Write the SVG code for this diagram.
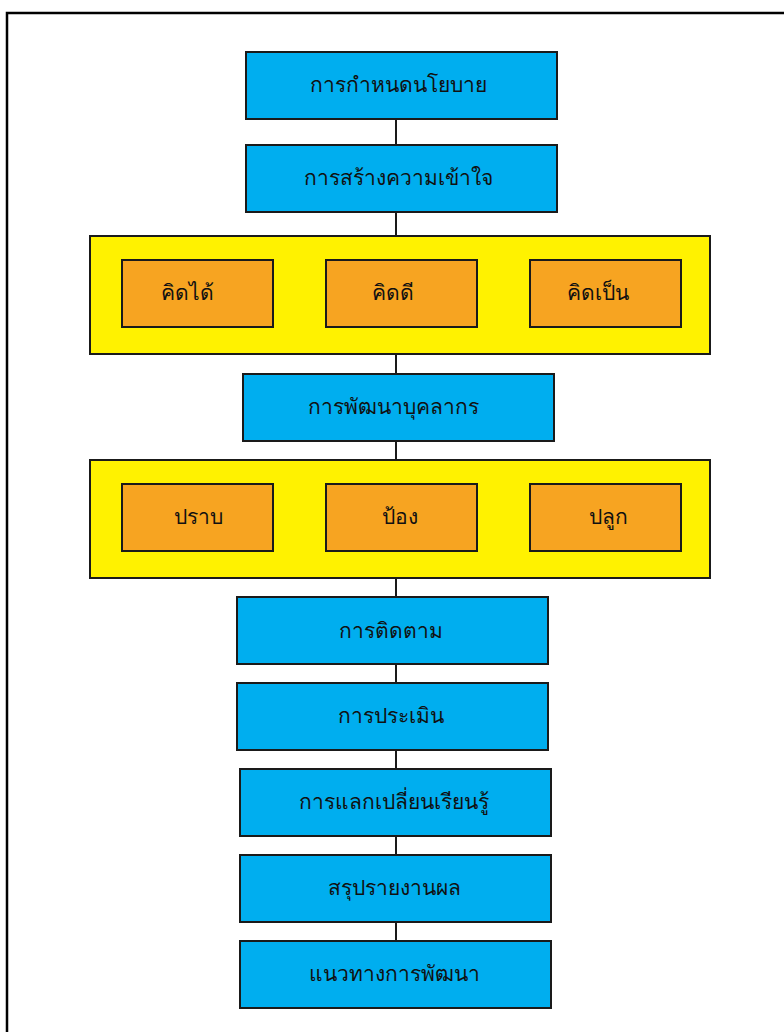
<svg xmlns="http://www.w3.org/2000/svg" width="784" height="1032" viewBox="0 0 784 1032">
<style>
.b{fill:#00AEEF;stroke:#1a1a1a;stroke-width:2}
.y{fill:#FFF200;stroke:#1a1a1a;stroke-width:2}
.o{fill:#F7A421;stroke:#1a1a1a;stroke-width:2}
.c{stroke:#1a1a1a;stroke-width:2;fill:none}
text{font-family:"Noto Sans","DejaVu Sans",sans-serif;font-size:21px;fill:#111;text-anchor:middle;dominant-baseline:central}
</style>
<rect width="784" height="1032" fill="#fff"/>
<path d="M7 1032V13H784" stroke="#000" stroke-width="2.5" fill="none"/>
<g id="connectors">
<line class="c" x1="396" y1="119" x2="396" y2="145"/>
<line class="c" x1="396" y1="212" x2="396" y2="236"/>
<line class="c" x1="396" y1="354" x2="396" y2="374"/>
<line class="c" x1="396" y1="441" x2="396" y2="460"/>
<line class="c" x1="396" y1="578" x2="396" y2="597"/>
<line class="c" x1="396" y1="664" x2="396" y2="683"/>
<line class="c" x1="396" y1="750" x2="396" y2="769"/>
<line class="c" x1="396" y1="836" x2="396" y2="855"/>
<line class="c" x1="396" y1="922" x2="396" y2="941"/>
</g>
<g id="n1"><rect class="b" x="246" y="52" width="311" height="67"/><text x="398" y="84">การกำหนดนโยบาย</text></g>
<g id="n2"><rect class="b" x="246" y="145" width="311" height="67"/><text x="398" y="177">การสร้างความเข้าใจ</text></g>
<g id="g1"><rect class="y" x="90" y="236" width="620" height="118"/></g>
<g id="k1"><rect class="o" x="122" y="260" width="151" height="67"/><text x="187" y="292">คิดได้</text></g>
<g id="k2"><rect class="o" x="326" y="260" width="151" height="67"/><text x="393" y="292">คิดดี</text></g>
<g id="k3"><rect class="o" x="530" y="260" width="151" height="67"/><text x="598" y="292">คิดเป็น</text></g>
<g id="n3"><rect class="b" x="243" y="374" width="311" height="67"/><text x="393" y="406">การพัฒนาบุคลากร</text></g>
<g id="g2"><rect class="y" x="90" y="460" width="620" height="118"/></g>
<g id="p1"><rect class="o" x="122" y="484" width="151" height="67"/><text x="198" y="516">ปราบ</text></g>
<g id="p2"><rect class="o" x="326" y="484" width="151" height="67"/><text x="400" y="516">ป้อง</text></g>
<g id="p3"><rect class="o" x="530" y="484" width="151" height="67"/><text x="608" y="516">ปลูก</text></g>
<g id="n4"><rect class="b" x="237" y="597" width="311" height="67"/><text x="391" y="630">การติดตาม</text></g>
<g id="n5"><rect class="b" x="237" y="683" width="311" height="67"/><text x="391" y="715">การประเมิน</text></g>
<g id="n6"><rect class="b" x="240" y="769" width="311" height="67"/><text x="394" y="801">การแลกเปลี่ยนเรียนรู้</text></g>
<g id="n7"><rect class="b" x="240" y="855" width="311" height="67"/><text x="394" y="887">สรุปรายงานผล</text></g>
<g id="n8"><rect class="b" x="240" y="941" width="311" height="67"/><text x="394" y="973">แนวทางการพัฒนา</text></g>
</svg>
